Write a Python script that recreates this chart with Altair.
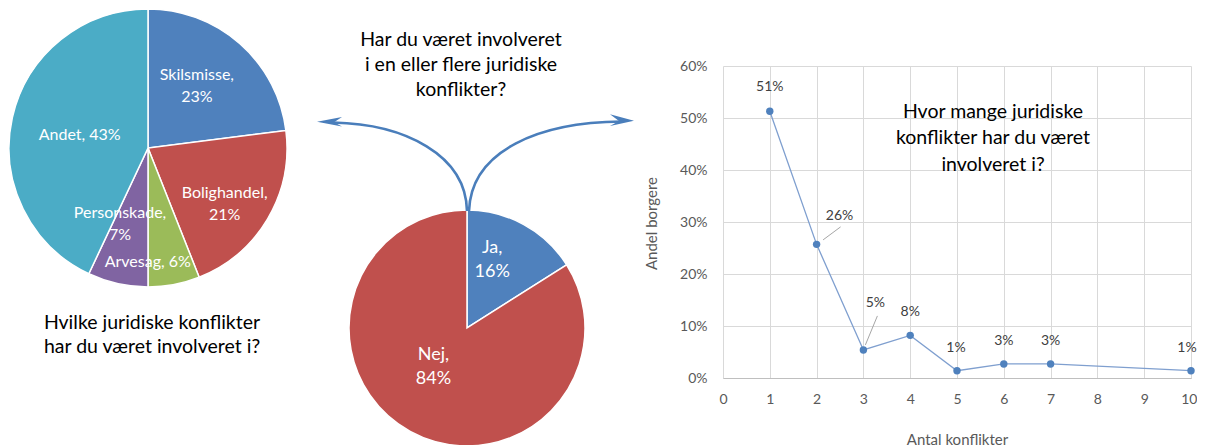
import altair as alt
import pandas as pd

# ---------------- data ----------------
pie1_cats = ["Skilsmisse", "Bolighandel", "Arvesag", "Personskade", "Andet"]
pie1_vals = [23, 21, 6, 7, 43]

pie2_cats = ["Ja", "Nej"]
pie2_vals = [16, 84]

n_conflicts = [1, 2, 3, 4, 5, 6, 7, 10]
share = [0.513, 0.257, 0.054, 0.082, 0.014, 0.027, 0.027, 0.014]
share_labels = ["51%", "26%", "5%", "8%", "1%", "3%", "3%", "1%"]

x_ticks = list(range(11))
y_ticks = [0, 0.1, 0.2, 0.3, 0.4, 0.5, 0.6]

title_mid = "Har du været involveret\ni en eller flere juridiske\nkonflikter?"
title_left = "Hvilke juridiske konflikter\nhar du været involveret i?"
title_right = "Hvor mange juridiske\nkonflikter har du været\ninvolveret i?"
x_title = "Antal konflikter"
y_title = "Andel borgere"

# ---------------- styles / layout ----------------
FONT = "Lato"
W, H = 468, 312                 # line-chart plot area
PXU = W / 10                    # pixels per x unit
PYU = H / 0.6                   # pixels per y unit

PIE1_COLORS = ["#4F81BD", "#C0504D", "#9BBB59", "#8064A2", "#4BACC6"]
PIE1_SEP = ["\n", "\n", " ", "\n", " "]
PIE1_LABEL_R = [80, 89, 116, 80, 71]
PIE1_LABEL_DX = [-4, 0, -22, -10.5, 1]
PIE1_LABEL_DY = [-13, 0, 0, -13, 2.5]
PIE1_C = (-575, 82)
PIE1_R = 139

PIE2_COLORS = ["#4F81BD", "#C0504D"]
PIE2_SEP = ["\n", "\n"]
PIE2_LABEL_R = [73, 52]
PIE2_LABEL_DX = [-10, -8.5]
PIE2_LABEL_DY = [-16, -18.5]
PIE2_C = (-256, 262)
PIE2_R = 118

# label offsets (pixels) relative to points
LAB_DX = [0, 23, 12, 0, -1, 0, 0, -4]
LAB_DY = [-24, -28, -47, -23, -23, -23, -23, -23]
# leader lines (pixel offsets from point): only for 2 and 3
LEAD_IDX = [1, 2]
LEAD_A = [(6.5, -4.5), (2, -5)]
LEAD_B = [(24, -17.5), (14, -34)]

ARROW_ANCHOR = (-256, 145)
ARROW_CURVES = ("M-134,-88.5 C-62,-87 -1,-56 0,0 "
                "M2,0 C4,-61 73,-89 155,-89.5")
ARROW_HEADS = ("M-150,-89.3 L-125,-94 L-133,-88.7 L-125,-84.5 Z "
               "M167,-90.3 L143,-96.7 L152,-90 L143,-85 Z")
ARROW_COLOR = "#4A7EBB"

# ---------------- pies ----------------
def pie_df(cats, vals, colors, seps, radii):
    return pd.DataFrame({
        "cat": cats,
        "v": vals,
        "order": list(range(len(cats))),
        "color": colors,
        "label": [f"{c},{s}{v}%" for c, s, v in zip(cats, seps, vals)],
        "r": radii,
    })


df1 = pie_df(pie1_cats, pie1_vals, PIE1_COLORS, PIE1_SEP, PIE1_LABEL_R)
df2 = pie_df(pie2_cats, pie2_vals, PIE2_COLORS, PIE2_SEP, PIE2_LABEL_R)

THETA_SCALE = alt.Scale(domain=[0, 100])


def pie(df, center, radius, fsize, lh, dxs, dys):
    arc = alt.Chart(df).mark_arc(radius=radius, stroke="white",
                                 strokeWidth=1.5).encode(
        theta=alt.Theta("v:Q", stack=True, scale=THETA_SCALE),
        order=alt.Order("order:Q"),
        color=alt.Color("color:N", scale=None),
        x=alt.value(center[0]),
        y=alt.value(center[1]),
    )
    out = [arc]
    for cat, dx, dy in zip(df["cat"], dxs, dys):
        txt = alt.Chart(df).transform_window(
            cum="sum(v)", frame=[None, 0], sort=[alt.SortField("order")]
        ).transform_calculate(
            mid="datum.cum - datum.v / 2"
        ).transform_filter(
            alt.datum.cat == cat
        ).mark_text(font=FONT, fontSize=fsize, color="white",
                    lineBreak="\n", align="center", baseline="middle",
                    lineHeight=lh, dx=dx, dy=dy).encode(
            theta=alt.Theta("mid:Q", stack=False, scale=THETA_SCALE),
            radius=alt.Radius("r:Q", scale=None),
            text="label:N",
            x=alt.value(center[0]),
            y=alt.value(center[1]),
        )
        out.append(txt)
    return out


# ---------------- free texts ----------------
def note(text, x, y, size=19.5, lh=26):
    return alt.Chart(pd.DataFrame({"t": [text]})).mark_text(
        font=FONT, fontSize=size, color="#000000", lineBreak="\n",
        align="center", baseline="middle", lineHeight=lh,
    ).encode(text="t:N", x=alt.value(x), y=alt.value(y))


arrows = alt.Chart(pd.DataFrame({"a": [0]})).mark_point(
    shape=ARROW_CURVES, size=4, filled=False, strokeWidth=2.6,
    color=ARROW_COLOR, opacity=1,
).encode(x=alt.value(ARROW_ANCHOR[0]), y=alt.value(ARROW_ANCHOR[1]))

heads = alt.Chart(pd.DataFrame({"a": [0]})).mark_point(
    shape=ARROW_HEADS, size=4, filled=True, strokeWidth=1,
    color=ARROW_COLOR, opacity=1,
).encode(x=alt.value(ARROW_ANCHOR[0]), y=alt.value(ARROW_ANCHOR[1]))

# ---------------- line chart ----------------
df3 = pd.DataFrame({"n": n_conflicts, "s": share, "lab": share_labels})
df3["lx"] = df3["n"] + pd.Series(LAB_DX) / PXU
df3["ly"] = df3["s"] - pd.Series(LAB_DY) / PYU

lead = pd.DataFrame({
    "x1": [n_conflicts[i] + a[0] / PXU for i, a in zip(LEAD_IDX, LEAD_A)],
    "y1": [share[i] - a[1] / PYU for i, a in zip(LEAD_IDX, LEAD_A)],
    "x2": [n_conflicts[i] + b[0] / PXU for i, b in zip(LEAD_IDX, LEAD_B)],
    "y2": [share[i] - b[1] / PYU for i, b in zip(LEAD_IDX, LEAD_B)],
})

xscale = alt.Scale(domain=[0, 10], nice=False, zero=False)
yscale = alt.Scale(domain=[0, 0.6], nice=False, zero=False)

LAST_X = f"datum.value == {x_ticks[-1]}"
x_axis = alt.Axis(values=x_ticks, labelFontSize=14, labelColor="#595959",
                  labelFont=FONT, labelPadding=14, labelFlush=False,
                  labelAlign={"condition": {"test": LAST_X, "value": "right"},
                              "value": "center"},
                  labelOffset={"condition": {"test": LAST_X, "value": 6},
                               "value": 0},
                  ticks=False, domain=True,
                  domainColor="#BFBFBF", grid=True, gridColor="#D9D9D9",
                  title=x_title, titleFont=FONT, titleFontSize=15,
                  titleFontWeight="normal", titleColor="#595959",
                  titlePadding=26)
y_axis = alt.Axis(values=y_ticks, format=".0%", labelFontSize=14,
                  labelColor="#595959", labelFont=FONT, labelPadding=16,
                  labelFlush=False,
                  ticks=False, domain=False, grid=True, gridColor="#D9D9D9",
                  title=y_title, titleFont=FONT, titleFontSize=15,
                  titleFontWeight="normal", titleColor="#595959",
                  titleX=-72, titleY=157, titleAngle=-90,
                  titleBaseline="middle", titleAlign="center")

line = alt.Chart(df3).mark_line(color="#7F9FCF", strokeWidth=1.3).encode(
    x=alt.X("n:Q", scale=xscale, axis=x_axis),
    y=alt.Y("s:Q", scale=yscale, axis=y_axis),
)
pts = alt.Chart(df3).mark_point(filled=True, size=55, color="#4F81BD",
                                opacity=1).encode(
    x=alt.X("n:Q", scale=xscale, axis=x_axis),
    y=alt.Y("s:Q", scale=yscale, axis=y_axis),
)
labs = alt.Chart(df3).mark_text(font=FONT, fontSize=14, color="#404040",
                                baseline="middle").encode(
    x=alt.X("lx:Q", scale=xscale, axis=x_axis),
    y=alt.Y("ly:Q", scale=yscale, axis=y_axis),
    text="lab:N",
)
leaders = alt.Chart(lead).mark_rule(color="#A6A6A6", strokeWidth=1).encode(
    x=alt.X("x1:Q", scale=xscale, axis=x_axis),
    y=alt.Y("y1:Q", scale=yscale, axis=y_axis),
    x2="x2:Q",
    y2="y2:Q",
)

layers = (
    [line, leaders, pts, labs]
    + pie(df1, PIE1_C, PIE1_R, 16, 22, PIE1_LABEL_DX, PIE1_LABEL_DY)
    + pie(df2, PIE2_C, PIE2_R, 18, 23.5, PIE2_LABEL_DX, PIE2_LABEL_DY)
    + [arrows, heads,
       note(title_mid, -262, -26, lh=25),
       note(title_left, -571, 257, lh=24),
       note(title_right, 270, 45.5, lh=26.5)]
)

chart = alt.layer(*layers).properties(
    width=W, height=H,
    autosize=alt.AutoSizeParams(type="none"),
    padding={"left": 715, "top": 58, "right": 6, "bottom": 80},
).configure(font=FONT).configure_view(stroke=None)

chart.save("out.html", embed_options={"renderer": "svg", "actions": False})
